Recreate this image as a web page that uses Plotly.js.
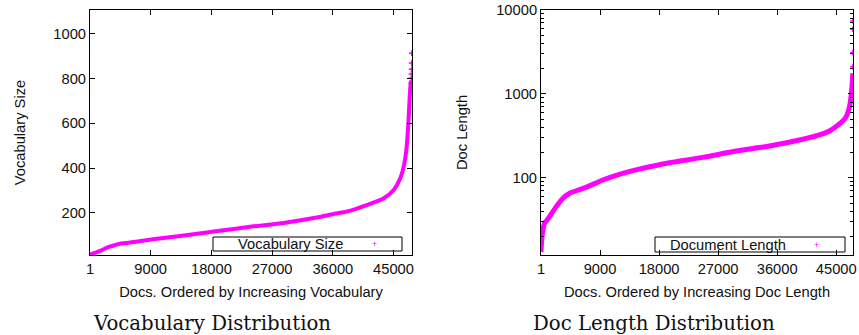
<!DOCTYPE html>
<html>
<head>
<meta charset="utf-8">
<script src="https://cdn.plot.ly/plotly-3.0.1.min.js"></script>
<style>html,body{margin:0;padding:0;background:#fff;}#chart{width:859px;height:335px;}</style>
</head>
<body>
<div id="chart"></div>
<script>
// ---- Data ----
var xTickVals = [1, 9000, 18000, 27000, 36000, 45000];
var xTickText = ['1', '9000', '18000', '27000', '36000', '45000'];

// Vocabulary distribution (docs ordered by increasing vocabulary)
var vocabDocs = [1, 700, 1400, 2100, 2900, 3700, 4300, 5500, 6800, 9300, 11800, 14200, 19200, 24000, 28700, 33600, 36000, 38500, 41000, 43500, 45000, 46000, 46600, 46950, 47200, 47350, 47500, 47600];
var vocabSize = [14, 21, 29, 39, 49, 56, 61, 66, 71, 82, 91, 100, 120, 139, 155, 179, 194, 209, 234, 264, 301, 354, 420, 495, 600, 689, 763, 790];
var vocabTailDocs = [47620, 47640, 47660, 47680, 47690, 47700];
var vocabTailSize = [778, 800, 820, 841, 868, 912];
var vocabYTicks = [200, 400, 600, 800, 1000];

// Document length distribution (docs ordered by increasing length)
var lenDocs = [1, 150, 500, 1270, 2290, 3310, 4320, 6860, 9410, 11940, 14490, 19570, 24660, 29740, 34820, 39910, 42450, 43970, 45500, 46520, 47030, 47290, 47440, 47540];
var lenVals = [13, 19.7, 28, 34.2, 45, 56.7, 65, 76.7, 94, 110, 124, 151, 175, 208, 239, 288, 324, 361, 438, 535, 705, 973, 1343, 1767];
var lenTailDocs = [47545, 47548, 47550, 47552];
var lenTailVals = [3100, 5900, 7400, 2100];
var lenYTickVals = [100, 1000, 10000];
var lenYTickText = ['100', '1000', '10000'];

var MAG = '#ff00ff';
var FONT = 'Liberation Sans, Arial, sans-serif';
var FS = 14.7;

var traces = [
  {x: vocabDocs, y: vocabSize, mode: 'lines', line: {color: MAG, width: 4, shape: 'spline', smoothing: 0.6}, xaxis: 'x', yaxis: 'y', showlegend: false, hoverinfo: 'skip'},
  {x: vocabTailDocs, y: vocabTailSize, mode: 'markers', name: 'Vocabulary Size', marker: {color: MAG, symbol: 'cross-thin', size: 4, line: {color: MAG, width: 1.5}}, xaxis: 'x', yaxis: 'y', showlegend: false},
  {x: lenDocs, y: lenVals, mode: 'lines', line: {color: MAG, width: 5, shape: 'spline', smoothing: 0.6}, xaxis: 'x2', yaxis: 'y2', showlegend: false, hoverinfo: 'skip'},
  {x: lenTailDocs, y: lenTailVals, mode: 'markers', name: 'Document Length', marker: {color: MAG, symbol: 'cross-thin', size: 4, line: {color: MAG, width: 1.5}}, xaxis: 'x2', yaxis: 'y2', showlegend: false}
];

function xAxis(domain, title, anchor, xmax) {
  return {
    domain: domain, anchor: anchor, range: [1, xmax],
    tickmode: 'array', tickvals: xTickVals, ticktext: xTickText,
    ticks: 'inside', ticklen: 5, tickcolor: '#000', tickwidth: 1,
    showline: true, linecolor: '#000', linewidth: 1, mirror: 'ticks',
    showgrid: false, zeroline: false,
    tickfont: {family: FONT, size: FS, color: '#111'},
    title: {text: title, font: {family: FONT, size: FS, color: '#111'}, standoff: 11}
  };
}

var layout = {
  width: 859, height: 335,
  margin: {l: 0, r: 0, t: 0, b: 0},
  paper_bgcolor: '#fff', plot_bgcolor: '#fff',
  showlegend: false,
  xaxis: xAxis([90/859, 412/859], 'Docs. Ordered by Increasing Vocabulary', 'y', 47740),
  xaxis2: xAxis([541/859, 853/859], 'Docs. Ordered by Increasing Doc Length', 'y2', 47560),
  yaxis: {
    domain: [1 - 255/335, 1 - 10/335], anchor: 'x', range: [12, 1105],
    tickmode: 'array', tickvals: vocabYTicks,
    ticks: 'inside', ticklen: 5, tickcolor: '#000',
    showline: true, linecolor: '#000', linewidth: 1, mirror: 'ticks',
    showgrid: false, zeroline: false,
    tickfont: {family: FONT, size: FS, color: '#111'},
    title: {text: 'Vocabulary Size', font: {family: FONT, size: FS, color: '#111'}, standoff: 24}
  },
  yaxis2: {
    domain: [1 - 255/335, 1 - 10/335], anchor: 'x2', type: 'log', range: [Math.log10(12), 4],
    tickmode: 'array', tickvals: lenYTickVals, ticktext: lenYTickText,
    ticks: 'inside', ticklen: 5, tickcolor: '#000',
    minor: {ticks: 'inside', ticklen: 3, tickcolor: '#000', dtick: 'D1', showgrid: false},
    showline: true, linecolor: '#000', linewidth: 1, mirror: 'ticks',
    showgrid: false, zeroline: false,
    tickfont: {family: FONT, size: FS, color: '#111'},
    title: {text: 'Doc Length', font: {family: FONT, size: FS, color: '#111'}, standoff: 25}
  },
  shapes: [
    {type: 'rect', xref: 'paper', yref: 'paper', x0: 213/859, x1: 402/859, y0: 1 - 251/335, y1: 1 - 237/335, line: {color: '#000', width: 1}, fillcolor: 'rgba(0,0,0,0)'},
    {type: 'rect', xref: 'paper', yref: 'paper', x0: 655/859, x1: 845/859, y0: 1 - 252/335, y1: 1 - 237/335, line: {color: '#000', width: 1}, fillcolor: 'rgba(0,0,0,0)'}
  ],
  annotations: [
    {xref: 'paper', yref: 'paper', x: 345/859, y: 1 - 244/335, xanchor: 'right', yanchor: 'middle', showarrow: false, text: 'Vocabulary Size', font: {family: FONT, size: FS, color: '#111'}},
    {xref: 'paper', yref: 'paper', x: 374/859, y: 1 - 244/335, xanchor: 'center', yanchor: 'middle', showarrow: false, text: '+', font: {family: FONT, size: 9, color: MAG}},
    {xref: 'paper', yref: 'paper', x: 788/859, y: 1 - 244.5/335, xanchor: 'right', yanchor: 'middle', showarrow: false, text: 'Document Length', font: {family: FONT, size: FS, color: '#111'}},
    {xref: 'paper', yref: 'paper', x: 816/859, y: 1 - 244.5/335, xanchor: 'center', yanchor: 'middle', showarrow: false, text: '+', font: {family: FONT, size: 9, color: MAG}},
    {xref: 'paper', yref: 'paper', x: 212/859, y: 1 - 323/335, xanchor: 'center', yanchor: 'middle', showarrow: false, text: 'Vocabulary Distribution', font: {family: 'DejaVu Serif, serif', size: 19.7, color: '#111'}},
    {xref: 'paper', yref: 'paper', x: 654/859, y: 1 - 323/335, xanchor: 'center', yanchor: 'middle', showarrow: false, text: 'Doc Length Distribution', font: {family: 'DejaVu Serif, serif', size: 19.7, color: '#111'}}
  ]
};

Plotly.newPlot('chart', traces, layout, {staticPlot: true, displayModeBar: false});
</script>
</body>
</html>
